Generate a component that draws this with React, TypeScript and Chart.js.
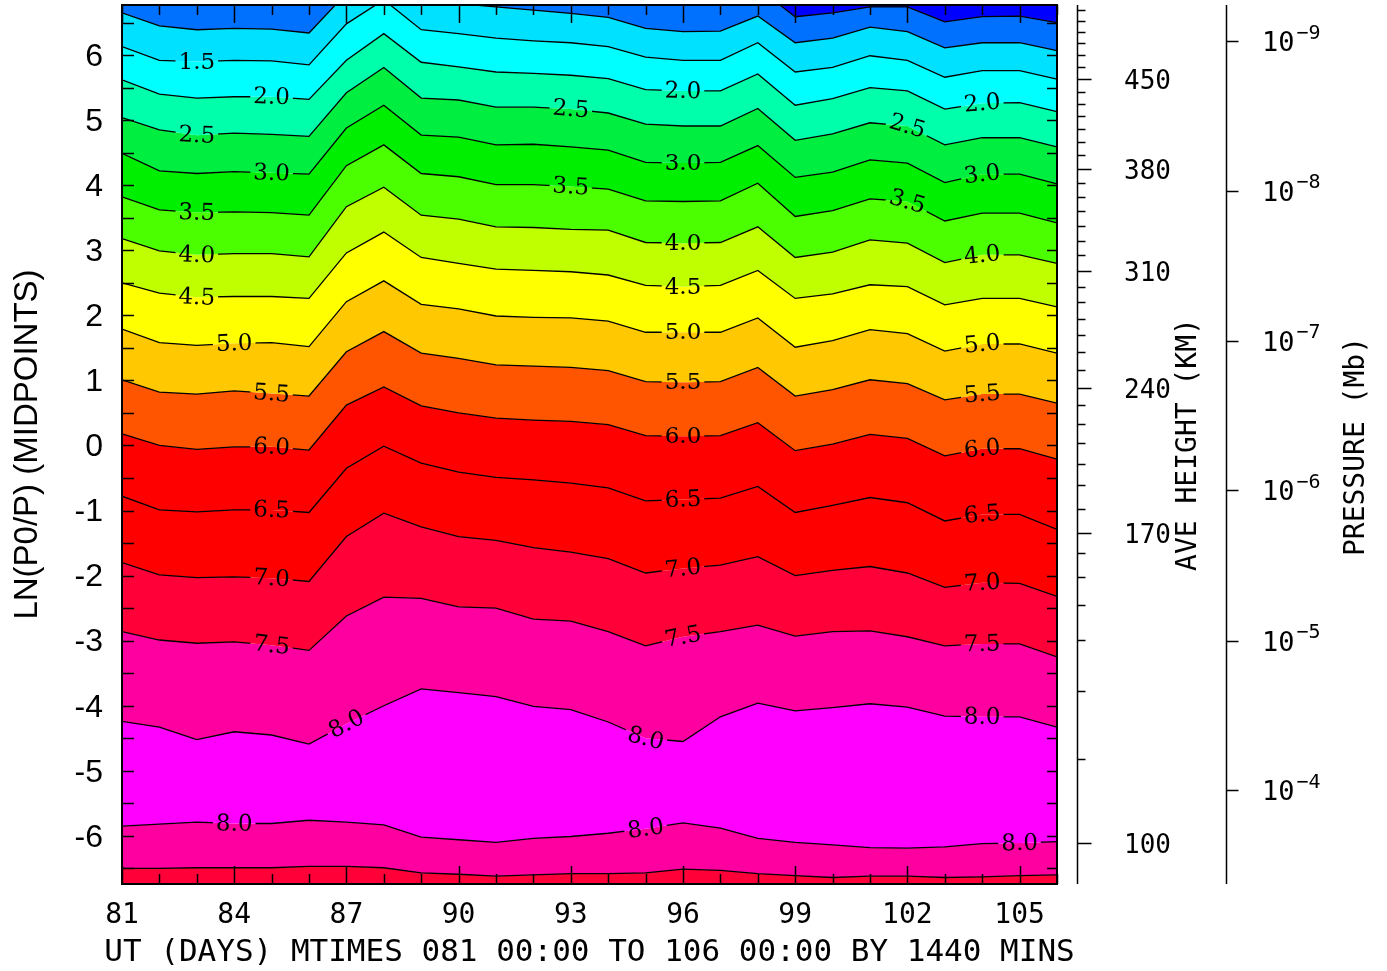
import React, { useEffect, useRef } from 'react';
import { Chart, registerables } from 'chart.js';

Chart.register(...registerables);

// ---------- data ----------
const days = [81, 82, 83, 84, 85, 86, 87, 88, 89, 90, 91, 92, 93, 94, 95, 96, 97, 98, 99, 100, 101, 102, 103, 104, 105, 106];
const xTickDays = [81, 84, 87, 90, 93, 96, 99, 102, 105];
const frameTickHalfSteps = [-6.5, -6, -5.5, -5, -4.5, -4, -3.5, -3, -2.5, -2, -1.5, -1, -0.5, 0, 0.5, 1, 1.5, 2, 2.5, 3, 3.5, 4, 4.5, 5, 5.5, 6, 6.5];
const yTickValues = [-6, -5, -4, -3, -2, -1, 0, 1, 2, 3, 4, 5, 6];
const xTitle = 'UT (DAYS) MTIMES 081 00:00 TO 106 00:00 BY 1440 MINS';
const yTitle = 'LN(P0/P) (MIDPOINTS)';

// contour lines (LN(P0/P) position of each contour level per day)
const contour05 = [8, 8, 8, 8, 8, 8, 8, 8, 8, 8, 8, 8, 8, 8, 8, 8, 8, 7.03, 6.59, 6.65, 6.74, 6.74, 6.51, 6.59, 6.6, 6.5];
const contour10 = [6.65, 6.45, 6.39, 6.41, 6.4, 6.34, 6.95, 7.38, 6.91, 6.79, 6.74, 6.69, 6.64, 6.58, 6.41, 6.36, 6.37, 6.6, 6.19, 6.26, 6.43, 6.36, 6.11, 6.19, 6.19, 6.07];
const contour15 = [6.13, 5.92, 5.9, 5.92, 5.91, 5.85, 6.48, 6.85, 6.39, 6.33, 6.26, 6.22, 6.19, 6.13, 5.97, 5.92, 5.92, 6.19, 5.74, 5.81, 5.99, 5.92, 5.66, 5.76, 5.76, 5.63];
const contour20 = [5.62, 5.4, 5.34, 5.36, 5.36, 5.32, 5.92, 6.33, 5.89, 5.82, 5.74, 5.72, 5.69, 5.64, 5.47, 5.45, 5.45, 5.71, 5.23, 5.33, 5.5, 5.45, 5.17, 5.26, 5.27, 5.13];
const contour25 = [5.04, 4.85, 4.77, 4.8, 4.78, 4.75, 5.42, 5.81, 5.34, 5.31, 5.2, 5.2, 5.17, 5.11, 4.94, 4.91, 4.91, 5.18, 4.69, 4.79, 4.96, 4.91, 4.62, 4.73, 4.73, 4.59];
const contour30 = [4.49, 4.22, 4.18, 4.21, 4.19, 4.17, 4.88, 5.23, 4.77, 4.74, 4.62, 4.63, 4.59, 4.54, 4.35, 4.34, 4.35, 4.61, 4.12, 4.2, 4.39, 4.34, 4.04, 4.17, 4.17, 4.02];
const contour35 = [3.82, 3.62, 3.58, 3.59, 3.58, 3.54, 4.3, 4.62, 4.18, 4.13, 4.01, 4.01, 3.98, 3.94, 3.76, 3.75, 3.76, 4.03, 3.52, 3.61, 3.79, 3.75, 3.45, 3.57, 3.57, 3.42];
const contour40 = [3.18, 2.99, 2.93, 2.95, 2.95, 2.9, 3.67, 3.97, 3.54, 3.48, 3.36, 3.35, 3.32, 3.31, 3.12, 3.11, 3.12, 3.36, 2.89, 2.97, 3.16, 3.11, 2.81, 2.93, 2.93, 2.8];
const contour45 = [2.5, 2.34, 2.28, 2.29, 2.29, 2.26, 2.96, 3.28, 2.89, 2.8, 2.71, 2.69, 2.67, 2.62, 2.46, 2.44, 2.46, 2.69, 2.26, 2.33, 2.47, 2.44, 2.16, 2.26, 2.26, 2.13];
const contour50 = [1.79, 1.58, 1.54, 1.57, 1.58, 1.52, 2.21, 2.53, 2.17, 2.1, 1.99, 1.97, 1.96, 1.91, 1.74, 1.74, 1.74, 1.96, 1.51, 1.61, 1.78, 1.72, 1.45, 1.56, 1.56, 1.42];
const contour55 = [1.01, 0.82, 0.79, 0.84, 0.8, 0.76, 1.44, 1.75, 1.42, 1.34, 1.24, 1.22, 1.2, 1.15, 0.98, 0.97, 0.98, 1.2, 0.76, 0.86, 1.01, 0.95, 0.7, 0.79, 0.79, 0.65];
const contour60 = [0.18, 0.0, -0.06, -0.02, -0.02, -0.07, 0.62, 0.9, 0.61, 0.5, 0.42, 0.39, 0.37, 0.32, 0.15, 0.14, 0.15, 0.35, -0.08, 0.02, 0.17, 0.11, -0.16, -0.05, -0.05, -0.21];
const contour65 = [-0.78, -0.99, -1.02, -0.99, -0.99, -1.03, -0.35, -0.01, -0.27, -0.41, -0.49, -0.53, -0.58, -0.65, -0.85, -0.83, -0.81, -0.63, -1.03, -0.92, -0.8, -0.88, -1.16, -1.06, -1.06, -1.29];
const contour70 = [-1.8, -1.99, -2.03, -2.02, -2.04, -2.09, -1.4, -1.04, -1.25, -1.4, -1.46, -1.57, -1.64, -1.74, -1.96, -1.89, -1.84, -1.71, -2.0, -1.92, -1.86, -1.96, -2.18, -2.11, -2.12, -2.32];
const contour75a = [-2.86, -2.99, -3.04, -3.02, -3.07, -3.15, -2.62, -2.33, -2.35, -2.48, -2.5, -2.67, -2.7, -2.86, -3.08, -2.94, -2.86, -2.76, -2.93, -2.86, -2.85, -2.94, -3.08, -3.05, -3.05, -3.25];
const contour80a = [-4.24, -4.33, -4.52, -4.4, -4.45, -4.59, -4.28, -4.0, -3.74, -3.8, -3.86, -4.01, -4.06, -4.25, -4.5, -4.55, -4.17, -3.96, -4.08, -4.03, -3.97, -4.02, -4.16, -4.17, -4.17, -4.33];
const contour80b = [-5.85, -5.82, -5.79, -5.81, -5.81, -5.76, -5.79, -5.83, -6.02, -6.06, -6.1, -6.04, -6.01, -5.96, -5.89, -5.8, -5.88, -6.04, -6.1, -6.14, -6.18, -6.19, -6.17, -6.12, -6.11, -6.09];
const contour75b = [-6.5, -6.5, -6.49, -6.49, -6.49, -6.47, -6.47, -6.49, -6.57, -6.59, -6.62, -6.6, -6.58, -6.58, -6.57, -6.51, -6.53, -6.58, -6.61, -6.64, -6.62, -6.62, -6.64, -6.63, -6.61, -6.6];

const levelTexts = ['0.5', '1.0', '1.5', '2.0', '2.5', '3.0', '3.5', '4.0', '4.5', '5.0', '5.5', '6.0', '6.5', '7.0', '7.5', '8.0', '8.0', '7.5'];
// colour of the band just above each contour line
const bandColors = ['#0000ff', '#0070ff', '#00e0ff', '#00ffff', '#00ffaa', '#00ee40', '#00ee00', '#4cff00', '#c0ff00', '#ffff00', '#ffc800', '#ff5500', '#ff0000', '#ff0000', '#ff0038', '#ff00a0', '#ff00ff', '#ff00a0'];
const bottomBandColor = '#ff0038';

// contour labels: index of contour line, day where the label sits
const labelLines = [2, 3, 3, 3, 4, 4, 4, 5, 5, 5, 6, 6, 6, 7, 7, 7, 8, 8, 9, 9, 9, 10, 10, 10, 11, 11, 11, 12, 12, 12, 13, 13, 13, 14, 14, 14, 15, 15, 15, 16, 16, 16];
const labelDays = [83, 85, 96, 104, 83, 93, 102, 85, 96, 104, 83, 93, 102, 83, 96, 104, 83, 96, 84, 96, 104, 85, 96, 104, 85, 96, 104, 85, 96, 104, 85, 96, 104, 85, 96, 104, 87, 95, 104, 84, 95, 105];

// right-hand axes (positions expressed in LN(P0/P))
const heightTickValues = [-6.11, -1.35, 0.88, 2.68, 4.25, 5.63];
const heightTickLabels = ['100', '170', '240', '310', '380', '450'];
const heightMinorTickValues = [-4.82, -3.77, -2.99, -2.45, -2.02, -1.65, -0.97, -0.61, -0.28, 0.04, 0.33, 0.62, 1.16, 1.43, 1.7, 1.95, 2.2, 2.44, 2.92, 3.15, 3.38, 3.6, 3.82, 4.04, 4.46, 4.66, 4.86, 5.06, 5.25, 5.44, 5.82, 6.0, 6.18, 6.36, 6.53, 6.7];
const pressureTickValues = [6.21, 3.91, 1.61, -0.69, -3.0, -5.3];
const pressureExponents = ['\u22129', '\u22128', '\u22127', '\u22126', '\u22125', '\u22124'];

const LABEL_FONT = '23px "DejaVu Serif"';
const MONO = 'DejaVu Sans Mono';

const allLines = [contour05, contour10, contour15, contour20, contour25, contour30, contour35, contour40, contour45, contour50, contour55, contour60, contour65, contour70, contour75a, contour80a, contour80b, contour75b];

function valueAt(arr: number[], d: number) {
  const f = d - days[0];
  let i = Math.floor(f);
  if (i < 0) i = 0;
  if (i > arr.length - 2) i = arr.length - 2;
  const t = f - i;
  return arr[i] + (arr[i + 1] - arr[i]) * t;
}

function labelGeometry(chart: any) {
  const xs = chart.scales.x;
  const ys = chart.scales.y;
  const ctx = chart.ctx;
  ctx.save();
  ctx.font = LABEL_FONT;
  const res = labelLines.map((li, k) => {
    const arr = allLines[li];
    const d = labelDays[k];
    const cx = xs.getPixelForValue(d);
    const cy = ys.getPixelForValue(valueAt(arr, d));
    const x1 = xs.getPixelForValue(d - 0.5);
    const y1 = ys.getPixelForValue(valueAt(arr, d - 0.5));
    const x2 = xs.getPixelForValue(d + 0.5);
    const y2 = ys.getPixelForValue(valueAt(arr, d + 0.5));
    const angle = Math.atan2(y2 - y1, x2 - x1);
    const text = levelTexts[li];
    const w = ctx.measureText(text).width;
    return { line: li, cx, cy, angle, w, text };
  });
  ctx.restore();
  return res;
}

const contourPlugin = {
  id: 'contourDecor',
  beforeDatasetDraw(chart: any, args: any) {
    const geo = labelGeometry(chart).filter((g) => g.line === args.index);
    if (!geo.length) return;
    const ctx = chart.ctx;
    ctx.save();
    ctx.beginPath();
    ctx.rect(0, 0, chart.width, chart.height);
    geo.forEach((g) => {
      const hw = g.w / 2 + 3;
      const hh = 12;
      const c = Math.cos(g.angle);
      const s = Math.sin(g.angle);
      const pts = [[-hw, -hh], [hw, -hh], [hw, hh], [-hw, hh]].map(([px, py]) => [g.cx + px * c - py * s, g.cy + px * s + py * c]);
      ctx.moveTo(pts[0][0], pts[0][1]);
      for (let i = 1; i < 4; i++) ctx.lineTo(pts[i][0], pts[i][1]);
      ctx.closePath();
    });
    ctx.clip('evenodd');
    chart.$gapSaved = args.index;
  },
  afterDatasetDraw(chart: any, args: any) {
    if (chart.$gapSaved === args.index) {
      chart.ctx.restore();
      chart.$gapSaved = -1;
    }
  },
  afterDatasetsDraw(chart: any) {
    const ctx = chart.ctx;
    const xs = chart.scales.x;
    const ys = chart.scales.y;
    const { left, right, top, bottom } = chart.chartArea;

    // contour labels
    ctx.save();
    ctx.font = LABEL_FONT;
    ctx.fillStyle = '#000';
    ctx.textAlign = 'center';
    ctx.textBaseline = 'middle';
    labelGeometry(chart).forEach((g) => {
      ctx.save();
      ctx.translate(g.cx, g.cy);
      ctx.rotate(g.angle);
      ctx.fillText(g.text, 0, 1);
      ctx.restore();
    });
    ctx.restore();

    // frame and inner ticks
    ctx.save();
    ctx.strokeStyle = '#000';
    ctx.lineWidth = 2;
    ctx.strokeRect(left, top, right - left, bottom - top);
    ctx.lineWidth = 1.5;
    ctx.beginPath();
    days.forEach((d) => {
      const x = Math.round(xs.getPixelForValue(d)) + 0.5;
      const len = xTickDays.includes(d) ? 18 : 10;
      ctx.moveTo(x, top);
      ctx.lineTo(x, top + len);
      ctx.moveTo(x, bottom);
      ctx.lineTo(x, bottom - len);
    });
    frameTickHalfSteps.forEach((v) => {
      const y = Math.round(ys.getPixelForValue(v)) + 0.5;
      ctx.moveTo(left, y);
      ctx.lineTo(left + 12, y);
      ctx.moveTo(right, y);
      ctx.lineTo(right - 10, y);
    });
    ctx.stroke();

    // x axis title (drawn at natural width)
    ctx.fillStyle = '#000';
    ctx.font = `31px "${MONO}"`;
    ctx.textAlign = 'center';
    ctx.textBaseline = 'middle';
    ctx.fillText(xTitle, (left + right) / 2, 953);

    // height axis
    const hx = 1077.5;
    ctx.lineWidth = 1.5;
    ctx.beginPath();
    ctx.moveTo(hx, top);
    ctx.lineTo(hx, bottom);
    heightTickValues.forEach((v) => {
      const y = Math.round(ys.getPixelForValue(v)) + 0.5;
      ctx.moveTo(hx, y);
      ctx.lineTo(hx + 14, y);
    });
    heightMinorTickValues.forEach((v) => {
      const y = Math.round(ys.getPixelForValue(v)) + 0.5;
      ctx.moveTo(hx, y);
      ctx.lineTo(hx + 8, y);
    });
    ctx.stroke();
    ctx.font = `26px "${MONO}"`;
    ctx.textAlign = 'left';
    ctx.textBaseline = 'middle';
    heightTickValues.forEach((v, i) => {
      ctx.fillText(heightTickLabels[i], 1124, ys.getPixelForValue(v) + 3);
    });
    ctx.save();
    ctx.translate(1189, (top + bottom) / 2);
    ctx.rotate(-Math.PI / 2);
    ctx.textAlign = 'center';
    ctx.font = `28px "${MONO}"`;
    ctx.fillText('AVE HEIGHT (KM)', 0, 0);
    ctx.restore();

    // pressure axis
    const px = 1226.5;
    ctx.beginPath();
    ctx.moveTo(px, top);
    ctx.lineTo(px, bottom);
    pressureTickValues.forEach((v) => {
      const y = Math.round(ys.getPixelForValue(v)) + 0.5;
      ctx.moveTo(px, y);
      ctx.lineTo(px + 12, y);
    });
    ctx.stroke();
    pressureTickValues.forEach((v, i) => {
      const y = ys.getPixelForValue(v);
      ctx.font = `27px "${MONO}"`;
      ctx.textAlign = 'left';
      ctx.fillText('10', 1262, y + 3);
      const w = ctx.measureText('10').width;
      ctx.font = `20px "${MONO}"`;
      ctx.fillText(pressureExponents[i], 1262 + w + 2, y - 8);
    });
    ctx.save();
    ctx.translate(1357, (top + bottom) / 2 + 2);
    ctx.rotate(-Math.PI / 2);
    ctx.textAlign = 'center';
    ctx.font = `28px "${MONO}"`;
    ctx.fillText('PRESSURE (Mb)', 0, 0);
    ctx.restore();
    ctx.restore();
  },
};

export default function App() {
  const ref = useRef<HTMLCanvasElement>(null);
  useEffect(() => {
    const canvas = ref.current;
    if (!canvas) return;
    const datasets: any[] = allLines.map((arr, i) => ({
      label: levelTexts[i],
      data: days.map((d, j) => ({ x: d, y: arr[j] })),
      borderColor: '#000',
      borderWidth: 1.3,
      pointRadius: 0,
      tension: 0,
      backgroundColor: bandColors[i],
      fill: i === 0 ? 'end' : '-1',
    }));
    datasets.push({
      label: 'base',
      data: days.map((d, j) => ({ x: d, y: contour75b[j] })),
      borderColor: 'rgba(0,0,0,0)',
      borderWidth: 0,
      pointRadius: 0,
      tension: 0,
      backgroundColor: bottomBandColor,
      fill: 'start',
    });

    const chart = new Chart(canvas, {
      type: 'line',
      data: { datasets },
      options: {
        animation: false,
        responsive: false,
        devicePixelRatio: 1,
        layout: { padding: { left: 0, top: 5, right: 330, bottom: 0 } },
        plugins: {
          legend: { display: false },
          tooltip: { enabled: false },
          filler: { drawTime: 'beforeDatasetsDraw' },
        },
        scales: {
          x: {
            type: 'linear',
            min: 81,
            max: 106,
            position: 'bottom',
            grid: { display: false, drawTicks: false },
            border: { display: false },
            afterBuildTicks: (s: any) => {
              s.ticks = xTickDays.map((v) => ({ value: v }));
            },
            afterFit: (s: any) => {
              s.height = 87;
              s.paddingLeft = 0;
              s.paddingRight = 0;
            },
            ticks: {
              autoSkip: false,
              maxRotation: 0,
              color: '#000',
              padding: 15,
              font: { family: MONO, size: 28 },
              callback: (v: any) => String(v),
            },
            title: { display: false },
          },
          y: {
            type: 'linear',
            min: -6.74,
            max: 6.77,
            position: 'left',
            grid: { display: false, drawTicks: false },
            border: { display: false },
            afterBuildTicks: (s: any) => {
              s.ticks = yTickValues.map((v) => ({ value: v }));
            },
            afterFit: (s: any) => {
              s.width = 122;
              s.paddingTop = 0;
              s.paddingBottom = 0;
            },
            ticks: {
              color: '#000',
              padding: 19,
              labelOffset: 2,
              font: { family: 'Liberation Sans', size: 32 },
              callback: (v: any) => String(v),
            },
            title: {
              display: true,
              text: yTitle,
              color: '#000',
              font: { family: 'Liberation Sans', size: 33 },
              padding: { top: 8, bottom: 0 },
            },
          },
        },
      } as any,
      plugins: [contourPlugin as any],
    });
    return () => chart.destroy();
  }, []);

  return (
    <div style={{ position: 'absolute', left: 0, top: 0, width: 1387, height: 971, background: '#fff' }}>
      <canvas ref={ref} width={1387} height={971} style={{ display: 'block' }} />
    </div>
  );
}
